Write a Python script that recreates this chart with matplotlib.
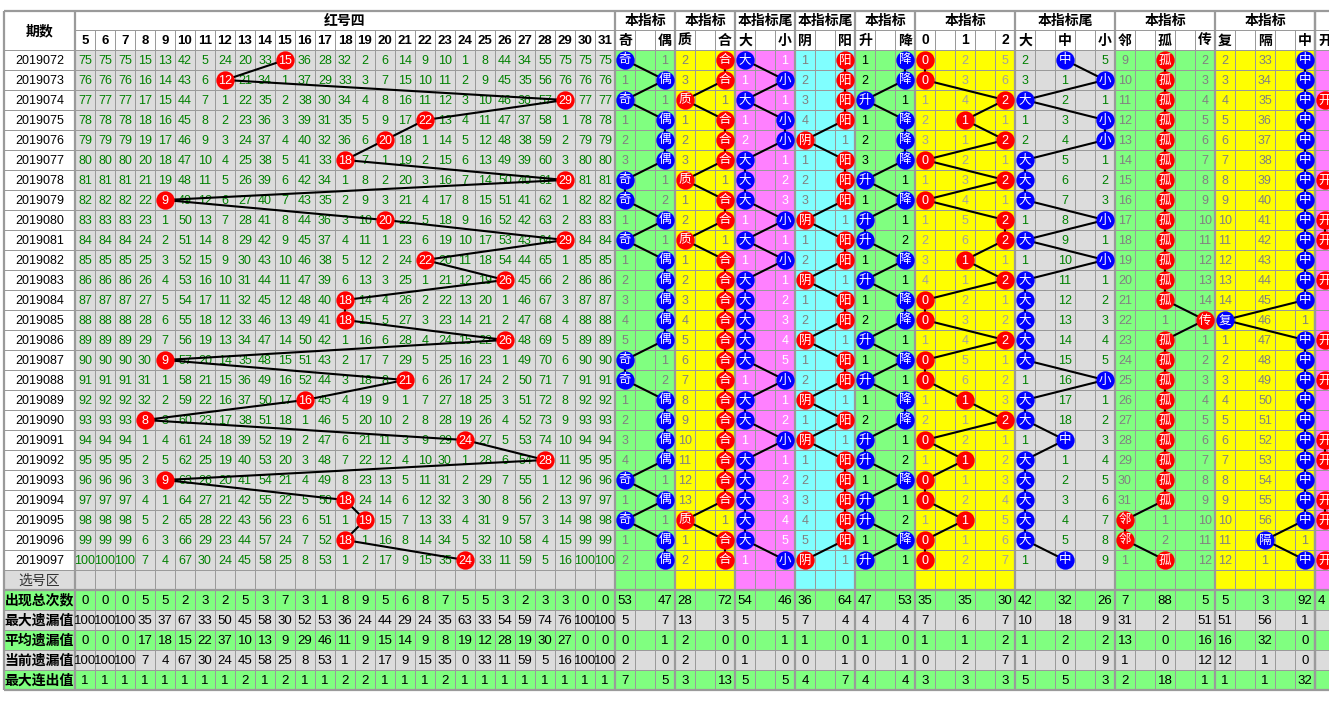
import matplotlib
matplotlib.use('Agg')
import matplotlib.pyplot as plt
from matplotlib.patches import Rectangle

plt.rcParams['font.family'] = ['Liberation Sans', 'Noto Sans CJK SC']

# ---- data ----
issues = ['2019072', '2019073', '2019074', '2019075', '2019076', '2019077',
          '2019078', '2019079', '2019080', '2019081', '2019082', '2019083',
          '2019084', '2019085', '2019086', '2019087', '2019088', '2019089',
          '2019090', '2019091', '2019092', '2019093', '2019094', '2019095',
          '2019096', '2019097']
balls = [5, 6, 7, 8, 9, 10, 11, 12, 13, 14, 15, 16, 17, 18, 19, 20, 21, 22, 23,
         24, 25, 26, 27, 28, 29, 30, 31]
hits = [15, 12, 29, 22, 20, 18, 29, 9, 20, 29, 22, 26, 18, 18, 26, 9, 21, 16, 8,
        24, 28, 9, 18, 19, 18, 24]

# omission per ball column, 0 = drawn
miss_rows = [
    "75 75 75 15 13 42 5 24 20 33 0 36 28 32 2 6 14 9 10 1 8 44 34 55 75 75 75",
    "76 76 76 16 14 43 6 0 21 34 1 37 29 33 3 7 15 10 11 2 9 45 35 56 76 76 76",
    "77 77 77 17 15 44 7 1 22 35 2 38 30 34 4 8 16 11 12 3 10 46 36 57 0 77 77",
    "78 78 78 18 16 45 8 2 23 36 3 39 31 35 5 9 17 0 13 4 11 47 37 58 1 78 78",
    "79 79 79 19 17 46 9 3 24 37 4 40 32 36 6 0 18 1 14 5 12 48 38 59 2 79 79",
    "80 80 80 20 18 47 10 4 25 38 5 41 33 0 7 1 19 2 15 6 13 49 39 60 3 80 80",
    "81 81 81 21 19 48 11 5 26 39 6 42 34 1 8 2 20 3 16 7 14 50 40 61 0 81 81",
    "82 82 82 22 0 49 12 6 27 40 7 43 35 2 9 3 21 4 17 8 15 51 41 62 1 82 82",
    "83 83 83 23 1 50 13 7 28 41 8 44 36 3 10 0 22 5 18 9 16 52 42 63 2 83 83",
    "84 84 84 24 2 51 14 8 29 42 9 45 37 4 11 1 23 6 19 10 17 53 43 64 0 84 84",
    "85 85 85 25 3 52 15 9 30 43 10 46 38 5 12 2 24 0 20 11 18 54 44 65 1 85 85",
    "86 86 86 26 4 53 16 10 31 44 11 47 39 6 13 3 25 1 21 12 19 0 45 66 2 86 86",
    "87 87 87 27 5 54 17 11 32 45 12 48 40 0 14 4 26 2 22 13 20 1 46 67 3 87 87",
    "88 88 88 28 6 55 18 12 33 46 13 49 41 0 15 5 27 3 23 14 21 2 47 68 4 88 88",
    "89 89 89 29 7 56 19 13 34 47 14 50 42 1 16 6 28 4 24 15 22 0 48 69 5 89 89",
    "90 90 90 30 0 57 20 14 35 48 15 51 43 2 17 7 29 5 25 16 23 1 49 70 6 90 90",
    "91 91 91 31 1 58 21 15 36 49 16 52 44 3 18 8 0 6 26 17 24 2 50 71 7 91 91",
    "92 92 92 32 2 59 22 16 37 50 17 0 45 4 19 9 1 7 27 18 25 3 51 72 8 92 92",
    "93 93 93 0 3 60 23 17 38 51 18 1 46 5 20 10 2 8 28 19 26 4 52 73 9 93 93",
    "94 94 94 1 4 61 24 18 39 52 19 2 47 6 21 11 3 9 29 0 27 5 53 74 10 94 94",
    "95 95 95 2 5 62 25 19 40 53 20 3 48 7 22 12 4 10 30 1 28 6 54 0 11 95 95",
    "96 96 96 3 0 63 26 20 41 54 21 4 49 8 23 13 5 11 31 2 29 7 55 1 12 96 96",
    "97 97 97 4 1 64 27 21 42 55 22 5 50 0 24 14 6 12 32 3 30 8 56 2 13 97 97",
    "98 98 98 5 2 65 28 22 43 56 23 6 51 1 0 15 7 13 33 4 31 9 57 3 14 98 98",
    "99 99 99 6 3 66 29 23 44 57 24 7 52 0 1 16 8 14 34 5 32 10 58 4 15 99 99",
    "100 100 100 7 4 67 30 24 45 58 25 8 53 1 2 17 9 15 35 0 33 11 59 5 16 100 100",
]

stat_names = ['出现总次数', '最大遗漏值', '平均遗漏值', '当前遗漏值', '最大连出值']
left_total = [0, 0, 0, 5, 5, 2, 3, 2, 5, 3, 7, 3, 1, 8, 9, 5, 6, 8, 7, 5, 5, 3, 2, 3, 3, 0, 0]
left_maxmiss = [100, 100, 100, 35, 37, 67, 33, 50, 45, 58, 30, 52, 53, 36, 24, 44, 29, 24,
                35, 63, 33, 54, 59, 74, 76, 100, 100]
left_avgmiss = [0, 0, 0, 17, 18, 15, 22, 37, 10, 13, 9, 29, 46, 11, 9, 15, 14, 9, 8, 19,
                12, 28, 19, 30, 27, 0, 0]
left_curmiss = [100, 100, 100, 7, 4, 67, 30, 24, 45, 58, 25, 8, 53, 1, 2, 17, 9, 15, 35, 0,
                33, 11, 59, 5, 16, 100, 100]
left_maxrun = [1, 1, 1, 1, 1, 1, 1, 1, 2, 1, 2, 1, 1, 2, 2, 1, 1, 1, 2, 1, 1, 1, 1, 1, 1, 1, 1]

# indicator omissions, 0 = hit
odd_m = [0, 1, 0, 1, 2, 3, 0, 0, 1, 0, 1, 2, 3, 4, 5, 0, 0, 1, 2, 3, 4, 0, 1, 0, 1, 2]
even_m = [1, 0, 1, 0, 0, 0, 1, 2, 0, 1, 0, 0, 0, 0, 0, 1, 2, 0, 0, 0, 0, 1, 0, 1, 0, 0]
prime_m = [2, 3, 0, 1, 2, 3, 0, 1, 2, 0, 1, 2, 3, 4, 5, 6, 7, 8, 9, 10, 11, 12, 13, 0, 1, 2]
comp_m = [0, 0, 1, 0, 0, 0, 1, 0, 0, 1, 0, 0, 0, 0, 0, 0, 0, 0, 0, 0, 0, 0, 0, 1, 0, 0]
tbig_m = [0, 1, 0, 1, 2, 0, 0, 0, 1, 0, 1, 0, 0, 0, 0, 0, 1, 0, 0, 1, 0, 0, 0, 0, 0, 1]
tsmall_m = [1, 0, 1, 0, 0, 1, 2, 3, 0, 1, 0, 1, 2, 3, 4, 5, 0, 1, 2, 0, 1, 2, 3, 4, 5, 0]
yin_m = [1, 2, 3, 4, 0, 1, 2, 3, 0, 1, 2, 0, 1, 2, 0, 1, 2, 0, 1, 0, 1, 2, 3, 4, 5, 0]
yang_m = [0, 0, 0, 0, 1, 0, 0, 0, 1, 0, 0, 1, 0, 0, 1, 0, 0, 1, 0, 1, 0, 0, 0, 0, 0, 1]
rise_m = [1, 2, 0, 1, 2, 3, 0, 1, 0, 0, 1, 0, 1, 2, 0, 1, 0, 1, 2, 0, 0, 1, 0, 0, 1, 0]
fall_m = [0, 0, 1, 0, 0, 0, 1, 0, 1, 2, 0, 1, 0, 0, 1, 0, 1, 0, 0, 1, 2, 0, 1, 2, 0, 1]
r0_m = [0, 0, 1, 2, 3, 0, 1, 0, 1, 2, 3, 4, 0, 0, 1, 0, 0, 1, 2, 0, 1, 0, 0, 1, 0, 0]
r1_m = [2, 3, 4, 0, 1, 2, 3, 4, 5, 6, 0, 1, 2, 3, 4, 5, 6, 0, 1, 2, 0, 1, 2, 0, 1, 2]
r2_m = [5, 6, 0, 1, 0, 1, 0, 1, 0, 0, 1, 0, 1, 2, 0, 1, 2, 3, 0, 1, 2, 3, 4, 5, 6, 7]
tb3_m = [2, 3, 0, 1, 2, 0, 0, 0, 1, 0, 1, 0, 0, 0, 0, 0, 1, 0, 0, 1, 0, 0, 0, 0, 0, 1]
tm3_m = [0, 1, 2, 3, 4, 5, 6, 7, 8, 9, 10, 11, 12, 13, 14, 15, 16, 17, 18, 0, 1, 2, 3, 4, 5, 0]
ts3_m = [5, 0, 1, 0, 0, 1, 2, 3, 0, 1, 0, 1, 2, 3, 4, 5, 0, 1, 2, 3, 4, 5, 6, 7, 8, 9]
adj_m = [9, 10, 11, 12, 13, 14, 15, 16, 17, 18, 19, 20, 21, 22, 23, 24, 25, 26, 27, 28, 29,
         30, 31, 0, 0, 1]
iso_m = [0, 0, 0, 0, 0, 0, 0, 0, 0, 0, 0, 0, 0, 1, 0, 0, 0, 0, 0, 0, 0, 0, 0, 1, 2, 0]
rep_m = [2, 3, 4, 5, 6, 7, 8, 9, 10, 11, 12, 13, 14, 0, 1, 2, 3, 4, 5, 6, 7, 8, 9, 10, 11, 12]
dup_m = [2, 3, 4, 5, 6, 7, 8, 9, 10, 11, 12, 13, 14, 0, 1, 2, 3, 4, 5, 6, 7, 8, 9, 10, 11, 12]
gap_m = [33, 34, 35, 36, 37, 38, 39, 40, 41, 42, 43, 44, 45, 46, 47, 48, 49, 50, 51, 52, 53,
         54, 55, 56, 0, 1]
mid_m = [0, 0, 0, 0, 0, 0, 0, 0, 0, 0, 0, 0, 0, 1, 0, 0, 0, 0, 0, 0, 0, 0, 0, 0, 1, 0]
ext_hit = [0, 0, 1, 0, 0, 0, 1, 0, 1, 1, 0, 1, 0, 0, 1, 0, 1, 0, 0, 1, 1, 0, 1, 1, 0, 1]

r_total = [53, 47, 28, 72, 54, 46, 36, 64, 47, 53, 35, 35, 30, 42, 32, 26, 7, 88, 5, 5, 3, 92]
r_maxmiss = [5, 7, 13, 3, 5, 5, 7, 4, 4, 4, 7, 6, 7, 10, 18, 9, 31, 2, 51, 51, 56, 1]
r_avgmiss = [0, 1, 2, 0, 0, 1, 1, 0, 1, 0, 1, 1, 2, 1, 2, 2, 13, 0, 16, 16, 32, 0]
r_curmiss = [2, 0, 2, 0, 1, 0, 0, 1, 0, 1, 0, 2, 7, 1, 0, 9, 1, 0, 12, 12, 1, 0]
r_maxrun = [7, 5, 3, 13, 5, 5, 4, 7, 4, 4, 3, 3, 3, 5, 5, 3, 2, 18, 1, 1, 1, 32]

# ---- style / layout ----
GREEN, YELLOW, PINK, CYAN, GRAY = '#80FF80', '#FFFF00', '#FF80FF', '#80FFFF', '#DCDCDC'
GRID = '#9a9a9a'
BLUE, RED = '#0000FF', '#FF0000'

groups = [
    ('本指标', ['奇', '偶'], [odd_m, even_m], GREEN, BLUE, '#808080'),
    ('本指标', ['质', '合'], [prime_m, comp_m], YELLOW, RED, '#808080'),
    ('本指标尾', ['大', '小'], [tbig_m, tsmall_m], PINK, BLUE, 'white'),
    ('本指标尾', ['阴', '阳'], [yin_m, yang_m], CYAN, RED, '#808080'),
    ('本指标', ['升', '降'], [rise_m, fall_m], GREEN, BLUE, 'black'),
    ('本指标', ['0', '1', '2'], [r0_m, r1_m, r2_m], YELLOW, RED, '#a0a0a0'),
    ('本指标尾', ['大', '中', '小'], [tb3_m, tm3_m, ts3_m], GRAY, BLUE, '#008000'),
    ('本指标', ['邻', '孤', '传'], [adj_m, iso_m, rep_m], GREEN, RED, '#808080'),
    ('本指标', ['复', '隔', '中'], [dup_m, gap_m, mid_m], YELLOW, BLUE, '#808080'),
]

W, H = 1329, 705
X0, XL, CW = 4, 75, 20
Y0, Y1, YD, RH = 11, 30, 50, 20
n = len(issues)
XR = XL + CW * len(balls)
YS = YD + RH * (n + 1)
YE = YS + RH * 5
BALL = 175

fig = plt.figure(figsize=(W / 100, H / 100), dpi=100)
ax = fig.add_axes([0, 0, 1, 1])
ax.set_xlim(0, W)
ax.set_ylim(H, 0)
ax.axis('off')


def box(x, y, w, h, c):
    ax.add_patch(Rectangle((x, y), w, h, facecolor=c, edgecolor='none', zorder=0))


def put(x, y, s, size=9, **kw):
    ax.text(x, y + 0.5, s, ha='center', va='center', fontsize=size, zorder=kw.pop('zorder', 2), **kw)


def yc(r):
    return YD + RH * r + RH / 2


rows_y = [yc(i) for i in range(n)]

# ---- left part: 期数 + 红号四 ----
box(XL, YD, XR - XL, RH * (n + 1), GRAY)
box(X0, YD + RH * n, XL - X0, RH, GRAY)
put((X0 + XL) / 2, (Y0 + YD) / 2, '期数', 10, fontweight='bold')
put((XL + XR) / 2, (Y0 + Y1) / 2, '红号四', 10, fontweight='bold')
for j, b in enumerate(balls):
    put(XL + CW * j + CW / 2, (Y1 + YD) / 2, str(b), 9.5, fontweight='bold')
for i, s in enumerate(issues):
    put((X0 + XL) / 2, yc(i), s, 9)
put((X0 + XL) / 2, yc(n), '选号区', 10, color='#333333')

for i, row in enumerate(miss_rows):
    for j, v in enumerate(row.split()):
        if v != '0':
            put(XL + CW * j + CW / 2, yc(i), v, 9, color='#008000')

bx = [XL + CW * balls.index(h) + CW / 2 for h in hits]
ax.plot(bx, rows_y, color='black', lw=1.5, zorder=3)
ax.scatter(bx, rows_y, s=BALL, color=RED, linewidths=0, zorder=4)
for x, y, h in zip(bx, rows_y, hits):
    put(x, y, str(h), 9, color='white', zorder=5)

# ---- right part: indicator groups ----
gx = XR
opt_x = []
bounds = [X0, XL, XR]
for title, opts, data, bg, cc, tc in groups:
    gw = CW * (2 * len(opts) - 1)
    box(gx, YD, gw, RH * (n + 1), bg)
    put(gx + gw / 2, (Y0 + Y1) / 2, title, 10, fontweight='bold')
    xs = [gx + CW * 2 * k + CW / 2 for k in range(len(opts))]
    for x, o, m in zip(xs, opts, data):
        put(x, (Y1 + YD) / 2, o, 10, fontweight='bold')
        for i, v in enumerate(m):
            if v:
                put(x, yc(i), str(v), 9, color=tc)
    hx, hl = [], []
    for i in range(n):
        k = [m[i] for m in data].index(0)
        hx.append(xs[k])
        hl.append(opts[k])
    ax.plot(hx, rows_y, color='black', lw=1.5, zorder=3)
    ax.scatter(hx, rows_y, s=BALL, color=cc, linewidths=0, zorder=4)
    for x, y, s in zip(hx, rows_y, hl):
        put(x, y, s, 9, color='white', zorder=5)
    opt_x += xs
    gx += gw
    bounds.append(gx)

# partial group at the right edge
box(gx, YD, CW * 5, RH * (n + 1), PINK)
put(gx + CW * 2.5, (Y0 + Y1) / 2, '本指标', 10, fontweight='bold')
put(gx + CW / 2, (Y1 + YD) / 2, '开', 10, fontweight='bold')
ex = gx + CW / 2
ey = [yc(i) for i, f in enumerate(ext_hit) if f]
for i in range(n - 1):
    if ext_hit[i] and ext_hit[i + 1]:
        ax.plot([ex, ex], [yc(i), yc(i + 1)], color='black', lw=1.5, zorder=3)
ax.scatter([ex] * len(ey), ey, s=BALL, color=RED, linewidths=0, zorder=4)
for y in ey:
    put(ex, y, '开', 9, color='white', zorder=5)

# ---- statistics rows ----
stat_left = [left_total, left_maxmiss, left_avgmiss, left_curmiss, left_maxrun]
stat_right = [r_total, r_maxmiss, r_avgmiss, r_curmiss, r_maxrun]
for k, name in enumerate(stat_names):
    y = YS + RH * k
    box(X0, y, W - X0, RH, GREEN if k % 2 == 0 else GRAY)
    put((X0 + XL) / 2, y + RH / 2, name, 10, fontweight='bold')
    for j, v in enumerate(stat_left[k]):
        put(XL + CW * j + CW / 2, y + RH / 2, str(v), 9.5)
    for x, v in zip(opt_x, stat_right[k]):
        put(x, y + RH / 2, str(v), 9.5)
put(ex - 4, YS + RH / 2, '4', 9.5)

# ---- grid ----
thin, thick = 0.72, 1.6
hy = [YD + RH * k for k in range(n + 2)] + [YS + RH * k for k in range(1, 5)]
ax.hlines(hy, X0, W, color=GRID, lw=thin, zorder=1)
ax.hlines([Y1], XL, W, color=GRID, lw=thin, zorder=1)
vx = [XL + CW * j for j in range(1, len(balls))] + list(range(XR + CW, W, CW))
ax.vlines(vx, Y1, YE, color=GRID, lw=thin, zorder=1)
bounds.append(gx)
ax.vlines(bounds, Y0, YE, color=GRID, lw=thick, zorder=1)
ax.hlines([Y0, YS, YE], X0, W, color=GRID, lw=thick, zorder=1)

fig.savefig('out.png', dpi=100, facecolor='white')
